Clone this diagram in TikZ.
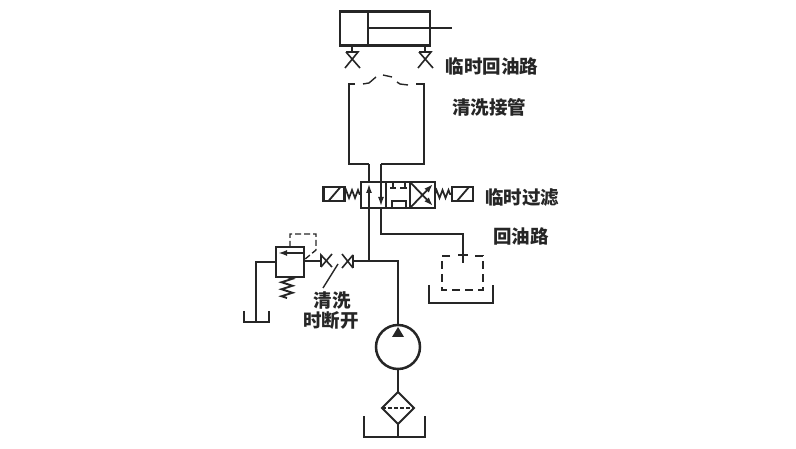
\documentclass[tikz,border=0pt]{standalone}
\usepackage{fontspec}
\setmainfont{Noto Sans CJK SC}
\usetikzlibrary{arrows.meta,decorations.pathmorphing,shapes.geometric}
\tikzset{
	pipe/.style={line width=1.4pt,black!85},
	wall/.style={line width=2.5pt,black!85},
	thin dash/.style={line width=1.4pt,black!85,dash pattern=on 8pt off 5pt},
	box/.style={rectangle,draw=black!85,line width=2.5pt,inner sep=0pt,outer sep=0pt},
	coil/.style={box,line width=2.2pt,minimum width=21pt,minimum height=14pt},
	spring/.style={pipe,line width=1.7pt,decorate,decoration={zigzag,segment length=6pt,amplitude=4pt}},
	coilspring/.style={pipe,line width=1.9pt,decorate,decoration={zigzag,segment length=7pt,amplitude=5.5pt}},
	label/.style={font=\bfseries\fontsize{18.5}{19}\selectfont,black!85,inner sep=0pt},
	tip/.style={-{Latex[length=9pt,width=6pt]}},
	stop/.pic={\draw[pipe,line width=1.6pt] (-6,0) -- (6,0) -- (-7,16) (8,16) -- (-6,0);},
	ballL/.pic={\draw[pipe,line width=1.6pt] (0,6) -- (0,-6) -- (11,6) (0,6) -- (11,-7);},
	ballR/.pic={\draw[pipe,line width=1.6pt] (0,-6) -- (0,7) (0,-6) -- (-11,7) (0,7) -- (-11,-7);}
}
\begin{document}
\begin{tikzpicture}[x=1pt,y=-1pt]
	\useasboundingbox (0,0) rectangle (796,449);
	% cylinder
	\node (cyl) at (385,28.5) [box,minimum width=90pt,minimum height=34pt] {};
	\coordinate (piston) at (368,28);
	\coordinate (rodend) at (452,28);
	\draw[wall] (piston |- cyl.north) -- (piston |- cyl.south);
	\draw[wall] (piston) -- (rodend);
	\coordinate (stopL) at (352,52);
	\coordinate (stopR) at (425,52);
	\draw[pipe] (stopL |- cyl.south) -- (stopL);
	\draw[pipe] (stopR |- cyl.south) -- (stopR);
	\pic at (stopL) {stop};
	\pic at (stopR) {stop};
	% flushing line
	\coordinate (flushL) at (349,84);
	\coordinate (flushR) at (424,84);
	\coordinate (portP) at (369,164);
	\coordinate (portT) at (381,164);
	\draw[pipe] (355,84) -- (flushL) -- (flushL |- portP) -- (portP);
	\draw[pipe] (416,84) -- (flushR) -- (flushR |- portT) -- (portT);
	\draw[pipe] (363,84) -- (369,83) -- (376,77) (383,75) -- (392,77) (397,82) -- (400,84) -- (408,85);
	% directional valve
	\node (valve) at (398,195) [box,minimum width=74pt,minimum height=26pt] {};
	\coordinate (divA) at (386,195);
	\coordinate (divB) at (410,195);
	\draw[wall] (divA |- valve.north) -- (divA |- valve.south);
	\draw[wall] (divB |- valve.north) -- (divB |- valve.south);
	\draw[pipe,tip] (369,208) -- (369,184);
	\draw[pipe,tip] (381,182) -- (381,206);
	\draw[pipe,line width=1.8pt] (390,188) -- (396,188) (400,188) -- (407,188) (393,182) -- (393,188) (405,182) -- (405,188);
	\draw[pipe,line width=1.8pt] (392,208) -- (392,201) -- (406,201) -- (406,208);
	\draw[pipe,line width=1.8pt,tip] (410,208) -- (433,184);
	\draw[pipe,line width=1.8pt,tip] (410,182) -- (433,206);
	% solenoids
	\node (coilL) at (334,194) [coil] {};
	\node (coilR) at (462.5,194) [coil] {};
	\draw[pipe,line width=1.8pt] (coilL.south west) ++(5,0) -- ++(12,-14);
	\draw[pipe,line width=1.8pt] (coilR.south west) ++(5,0) -- ++(12,-14);
	\draw[spring] (coilL.east) -- (valve.west |- coilL);
	\draw[spring] (valve.east |- coilR) -- (coilR.west);
	% pressure line
	\coordinate (tee) at (369,261);
	\coordinate (elbow) at (398,261);
	\node (pump) at (398,347) [circle,draw=black!85,line width=2.5pt,minimum size=44pt,inner sep=0pt,outer sep=0pt] {};
	\draw[pipe] (portP) -- (369,182) (369,208) -- (tee);
	\draw[pipe] (353,261) -- (elbow) -- (pump.north);
	\fill[black!85] (398,327) -- (404,337) -- (392,337) -- cycle;
	% filter and suction tank
	\node (filter) at (398,408) [diamond,draw=black!85,line width=2pt,minimum size=32pt,inner sep=0pt,outer sep=0pt] {};
	\coordinate (sumpB) at (398,437);
	\draw[pipe] (pump.south) -- (filter.north);
	\draw[pipe] (filter.south) -- (sumpB);
	\draw[pipe,dash pattern=on 4pt off 2pt] (filter.west) -- (filter.east);
	\draw[wall] (364,416) -- (364,437) -- (425,437) -- (425,416);
	% return line
	\coordinate (retA) at (381,234);
	\coordinate (retB) at (463,234);
	\coordinate (retC) at (463,263);
	\draw[pipe] (portT) -- (381,182) (381,208) -- (retA) -- (retB) -- (retC);
	\draw[pipe] (458,255) -- (468,255);
	\draw[thin dash] (450,256) -- (442,256) -- (442,290) -- (483,290) -- (483,256) -- (475,256);
	\draw[wall] (429,285) -- (429,303) -- (493,303) -- (493,285);
	% relief valve
	\node (relief) at (290,262) [box,minimum width=28pt,minimum height=30pt] {};
	\coordinate (reliefT) at (256,262);
	\coordinate (reliefA) at (304,253);
	\coordinate (tankB) at (256,322);
	\draw[pipe,line width=1.8pt,tip] (reliefA) -- (278,253);
	\draw[pipe] (relief.west |- reliefT) -- (reliefT) -- (tankB);
	\draw[wall] (244,311) -- (244,322) -- (269,322) -- (269,311);
	\draw[coilspring] (287,277) -- (287,298);
	\draw[thin dash,dash pattern=on 6pt off 3pt] (290,247) -- (290,234) -- (316,234) -- (316,250) -- (304,260);
	% shut-off valves
	\coordinate (ballA) at (321,261);
	\coordinate (ballB) at (353,261);
	\draw[pipe] (relief.east |- ballA) -- (ballA);
	\pic at (ballA) {ballL};
	\pic at (ballB) {ballR};
	\draw[pipe] (338,264) -- (323,288);
	% labels
	\node (txtA) at (492,66) [label] {临时回油路};
	\node (txtB) at (489,107) [label] {清洗接管};
	\node (txtC) at (522,198) [label] {临时过滤};
	\node (txtD) at (521,236) [label] {回油路};
	\node (txtE) at (332,300) [label] {清洗};
	\node (txtF) at (331,320) [label] {时断开};
\end{tikzpicture}
\end{document}
